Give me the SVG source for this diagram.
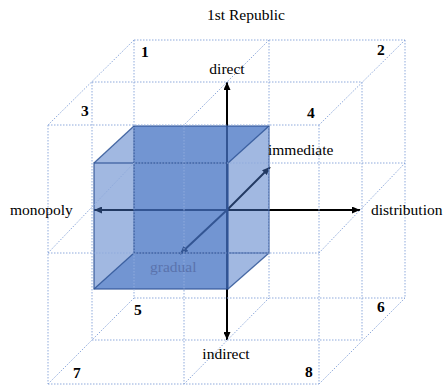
<svg xmlns="http://www.w3.org/2000/svg" width="448" height="390" viewBox="0 0 448 390">
<style>
  text { font-family: 'Liberation Serif', 'Times New Roman', Times, serif; font-size: 15.5px; fill: #000; }
  .num { font-weight: bold; }
  .grid line { stroke: #8FAADC; stroke-width: 1; stroke-dasharray: 1.5 1.5; fill: none; }
  .axis { stroke: #000; stroke-width: 2; fill: none; }
  .face { fill: #4472C4; fill-opacity: 0.5; stroke: none; }
  .edge { stroke: #2F5597; stroke-width: 1.3; stroke-opacity: 0.85; fill: none; }
</style>
<defs>
  <marker id="arr" viewBox="0 0 8 7" refX="8" refY="3.5" markerWidth="8" markerHeight="7" markerUnits="userSpaceOnUse" orient="auto">
    <path d="M0,0 L8,3.5 L0,7 z" fill="#000"/>
  </marker>
</defs>
<rect width="448" height="390" fill="#fff"/>

<g id="connectors">
  <line class="axis" x1="227" y1="210" x2="227" y2="82" marker-end="url(#arr)"/>
  <line class="axis" x1="227" y1="210" x2="227" y2="340" marker-end="url(#arr)"/>
  <line class="axis" x1="227" y1="210" x2="94" y2="210" marker-end="url(#arr)"/>
  <line class="axis" x1="227" y1="210" x2="360" y2="210" marker-end="url(#arr)"/>
  <line class="axis" x1="227" y1="210" x2="270" y2="167" marker-end="url(#arr)"/>
  <line class="axis" x1="227" y1="210" x2="180" y2="254" marker-end="url(#arr)"/>
</g>

<g id="cube">
  <rect class="face" x="134" y="126" width="135" height="127"/>
  <polygon class="face" points="94,163 134,126 269,126 228,163"/>
  <polygon class="face" points="94,289 134,253 269,253 228,289"/>
  <rect class="face" x="94" y="163" width="134" height="126"/>
  <rect class="edge" x="134" y="126" width="135" height="127"/>
  <rect class="edge" x="94" y="163" width="134" height="126"/>
  <line class="edge" x1="94" y1="163" x2="134" y2="126"/>
  <line class="edge" x1="228" y1="163" x2="269" y2="126"/>
  <line class="edge" x1="94" y1="289" x2="134" y2="253"/>
  <line class="edge" x1="228" y1="289" x2="269" y2="253"/>
</g>

<g id="grid" class="grid">
  <line x1="134" y1="40" x2="405" y2="40"/>
  <line x1="134" y1="163" x2="405" y2="163"/>
  <line x1="134" y1="298" x2="405" y2="298"/>
  <line x1="92" y1="82" x2="362" y2="82"/>
  <line x1="92" y1="340" x2="362" y2="340"/>
  <line x1="48" y1="125" x2="319" y2="125"/>
  <line x1="48" y1="253" x2="319" y2="253"/>
  <line x1="48" y1="384" x2="319" y2="384"/>
  <line x1="134" y1="40" x2="134" y2="298"/>
  <line x1="269" y1="40" x2="269" y2="298"/>
  <line x1="405" y1="40" x2="405" y2="298"/>
  <line x1="92" y1="82" x2="92" y2="340"/>
  <line x1="362" y1="82" x2="362" y2="340"/>
  <line x1="48" y1="125" x2="48" y2="384"/>
  <line x1="184" y1="125" x2="184" y2="384"/>
  <line x1="319" y1="125" x2="319" y2="384"/>
  <line x1="134" y1="40" x2="48" y2="125"/>
  <line x1="269" y1="40" x2="184" y2="125"/>
  <line x1="405" y1="40" x2="319" y2="125"/>
  <line x1="134" y1="163" x2="48" y2="253"/>
  <line x1="405" y1="163" x2="319" y2="253"/>
  <line x1="134" y1="298" x2="48" y2="384"/>
  <line x1="269" y1="298" x2="184" y2="384"/>
  <line x1="405" y1="298" x2="319" y2="384"/>
</g>

<g id="title"><text x="246" y="20" text-anchor="middle">1st Republic</text></g>
<g id="label-direct"><text x="227" y="74" text-anchor="middle">direct</text></g>
<g id="label-indirect"><text x="226" y="359" text-anchor="middle">indirect</text></g>
<g id="label-monopoly"><text x="10" y="215">monopoly</text></g>
<g id="label-distribution"><text x="371" y="215">distribution</text></g>
<g id="label-immediate"><text x="268" y="155">immediate</text></g>
<g id="label-gradual"><text x="150" y="272" style="fill:#5A73AD">gradual</text></g>

<g id="cell-1"><text class="num" x="141" y="57">1</text></g>
<g id="cell-2"><text class="num" x="377" y="55">2</text></g>
<g id="cell-3"><text class="num" x="81" y="116">3</text></g>
<g id="cell-4"><text class="num" x="307" y="118">4</text></g>
<g id="cell-5"><text class="num" x="134" y="315">5</text></g>
<g id="cell-6"><text class="num" x="377" y="312">6</text></g>
<g id="cell-7"><text class="num" x="73" y="378">7</text></g>
<g id="cell-8"><text class="num" x="305" y="377">8</text></g>
</svg>
